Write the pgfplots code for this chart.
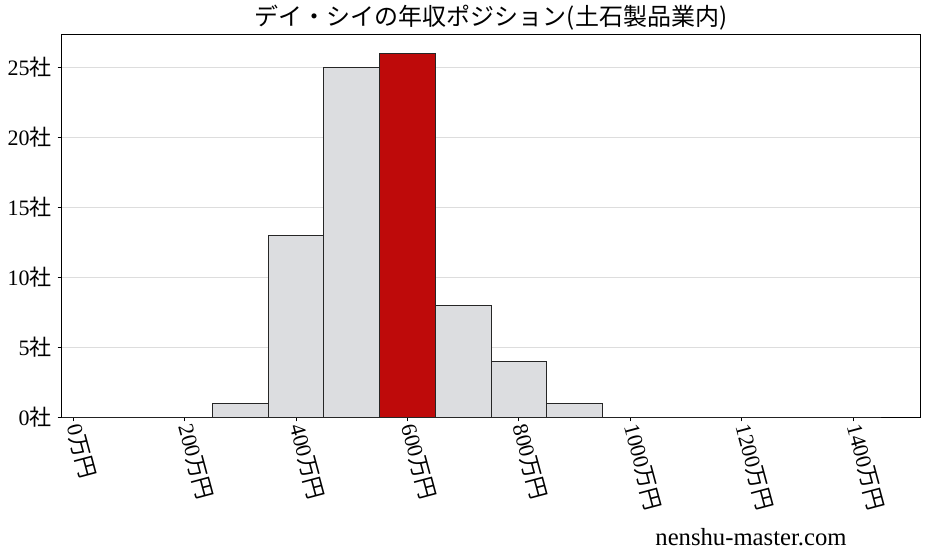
\documentclass[border=0pt]{standalone}
\usepackage{pgfplots}
\pgfplotsset{compat=1.18}
\usepackage{fontspec}
\setmainfont{Liberation Serif}
\newfontfamily\jp{Noto Sans CJK JP}
\definecolor{bargray}{RGB}{220,221,224}
\definecolor{barred}{RGB}{190,10,10}
\definecolor{gridgray}{RGB}{221,221,221}

\begin{document}
\begin{tikzpicture}
\begin{axis}[
    at={(0,0)}, anchor=south west,
    scale only axis,
    width=643.5pt, height=286.5pt,
    xmin=-20, xmax=1520,
    ymin=0, ymax=27.3,
    xtick={0,200,400,600,800,1000,1200,1400},
    xticklabels={0{\jp 万円},200{\jp 万円},400{\jp 万円},600{\jp 万円},800{\jp 万円},1000{\jp 万円},1200{\jp 万円},1400{\jp 万円}},
    ytick={0,5,10,15,20,25},
    yticklabels={0{\jp 社},5{\jp 社},10{\jp 社},15{\jp 社},20{\jp 社},25{\jp 社}},
    xtick pos=bottom, ytick pos=left,
    tick align=outside,
    major tick length=3.2pt,
    tick style={black, line width=0.6pt},
    x tick label style={font=\fontsize{16.5}{16.5}\selectfont, rotate=-75, anchor=west, xshift=-1pt},
    y tick label style={font=\fontsize{16.5}{16.5}\selectfont, xshift=-1pt},
    ymajorgrids,
    grid style={gridgray, line width=0.6pt},
    axis line style={black, line width=0.75pt},
    title={\jp デイ・シイの年収ポジション(土石製品業内)},
    title style={font=\fontsize{18}{18}\selectfont\jp, yshift=-6pt},
]
\addplot[ybar interval, fill=bargray, draw=black!85, line width=0.6pt] coordinates {
(-50,0) (50,0) (150,0) (250,1) (350,13) (450,25) (550,0) (650,8) (750,4) (850,1)
(950,0) (1050,0) (1150,0) (1250,0) (1350,0) (1450,0)};
\addplot[ybar interval, fill=barred, draw=black!85, line width=0.6pt] coordinates {
(550,26) (650,26)};
\end{axis}
\node[font=\fontsize{18.5}{18.5}\selectfont, anchor=center] at (516.75pt,-90pt) {nenshu-master.com};
\pgfresetboundingbox
\path[use as bounding box] (-46.5pt,-105pt) rectangle (649.5pt,312.75pt);
\end{tikzpicture}
\end{document}
